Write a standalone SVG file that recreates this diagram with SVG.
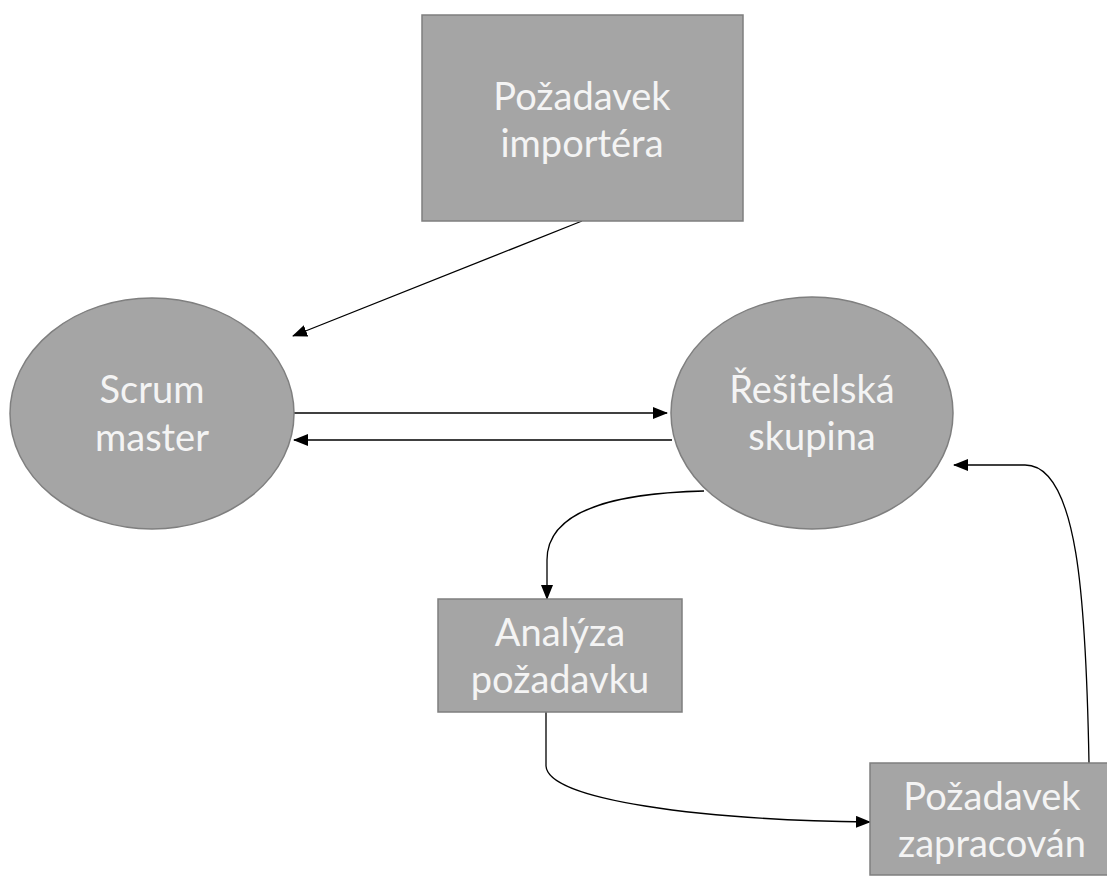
<svg xmlns="http://www.w3.org/2000/svg" width="1107" height="877" viewBox="0 0 1107 877">
<style>
.node{fill:#a5a5a5;stroke:#7f7f7f;stroke-width:1.5}
.lbl{font-family:Lato,"Open Sans",sans-serif;font-size:38px;fill:#f4f4f4;text-anchor:middle}
.edge{fill:none;stroke:#000;stroke-width:1.3}
</style>
<defs>
<marker id="ah" markerUnits="userSpaceOnUse" markerWidth="16" markerHeight="12" refX="14" refY="6" orient="auto">
<path d="M0,0 L15,6 L0,12 Z" fill="#000"/>
</marker>
</defs>
<rect width="1107" height="877" fill="#fff"/>
<g id="edges">
<path class="edge" d="M582,221 L293,336" marker-end="url(#ah)"/>
<path class="edge" d="M294,413 L667,413" marker-end="url(#ah)"/>
<path class="edge" d="M672,440 L294,440" marker-end="url(#ah)"/>
<path class="edge" d="M704,491 C620,493 547,508 547,560 L547,599" marker-end="url(#ah)"/>
<path class="edge" d="M546,712 L546,766 C548,800 700,820 870,822" marker-end="url(#ah)"/>
<path class="edge" d="M1089,763 C1086,600 1078,465 1025,465 L954,465" marker-end="url(#ah)"/>
</g>
<g id="pozadavek-importera">
<rect class="node" x="422" y="15" width="321" height="206"/>
<text class="lbl" x="582" y="110">Požadavek</text>
<text class="lbl" x="582" y="157">importéra</text>
</g>
<g id="scrum-master">
<ellipse class="node" cx="152" cy="413.5" rx="142" ry="115.5"/>
<text class="lbl" x="152" y="403">Scrum</text>
<text class="lbl" x="152" y="451">master</text>
</g>
<g id="resitelska-skupina">
<ellipse class="node" cx="812" cy="413" rx="141" ry="116"/>
<text class="lbl" x="812" y="403">Řešitelská</text>
<text class="lbl" x="812" y="450">skupina</text>
</g>
<g id="analyza-pozadavku">
<rect class="node" x="438" y="599" width="244" height="113"/>
<text class="lbl" x="560" y="646">Analýza</text>
<text class="lbl" x="560" y="693">požadavku</text>
</g>
<g id="pozadavek-zapracovan">
<rect class="node" x="870" y="763" width="250" height="112"/>
<text class="lbl" x="992" y="810">Požadavek</text>
<text class="lbl" x="992" y="857">zapracován</text>
</g>
</svg>
